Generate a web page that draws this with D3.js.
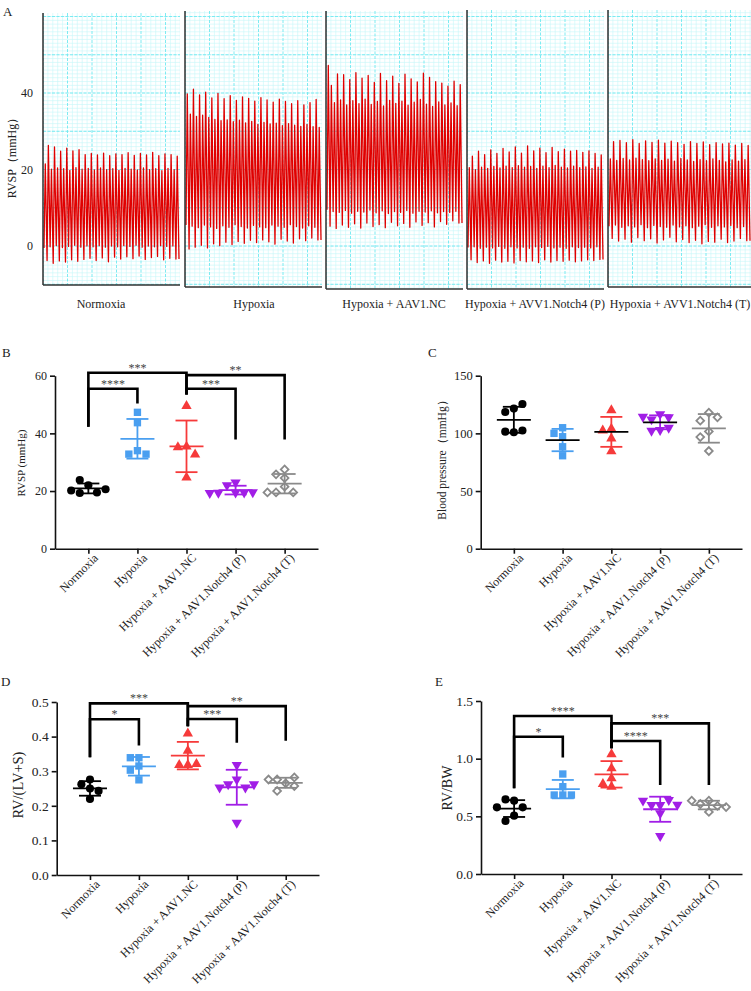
<!DOCTYPE html>
<html>
<head>
<meta charset="utf-8">
<script src="https://cdn.jsdelivr.net/npm/d3@7"></script>
<style>
  body { margin: 0; background: #fff; }
  svg { display: block; }
  text { font-family: "Liberation Serif", "Times New Roman", serif; }
</style>
</head>
<body>
<div id="fig"></div>
<script>
// ---------- panel A : pressure traces (mmHg per beat) ----------
var traceNames = ["Normoxia", "Hypoxia", "Hypoxia + AAV1.NC", "Hypoxia + AVV1.Notch4 (P)", "Hypoxia + AVV1.Notch4 (T)"];

var normPeak = [21.5,26.3,20.1,25.9,20.4,24.8,20.2,25.6,19.8,24.9,20.5,25.2,20.1,23.9,20.3,24.2,19.9,23.8,20.4,24.3,20.0,23.6,20.2,24.1,19.8,23.9,20.3,24.4,20.1,23.7,19.9,24.2,20.4,23.8,20.0,24.5,20.2,23.6,19.7,24.1,20.3,23.9,20.0,23.5];
var normTrough = [-0.5,-3.8,-0.2,-4.5,0.1,-3.9,-0.4,-4.2,-0.1,-3.6,0.2,-4.0,-0.3,-3.5,0.0,-3.2,-0.2,-3.8,0.1,-3.1,-0.3,-4.1,0.0,-2.9,-0.2,-3.4,0.1,-2.8,-0.1,-3.3,0.2,-2.6,-0.3,-3.5,0.0,-3.0,-0.2,-2.7,0.1,-3.6,-0.1,-3.2,0.0,-3.4];
var hypPeak = [39.8,34.5,41.0,33.9,39.5,34.2,40.2,33.6,38.7,33.1,39.9,32.8,38.5,33.0,39.3,32.5,38.1,32.9,39.0,32.2,38.6,32.6,37.9,31.8,38.8,32.3,38.2,31.9,37.6,32.1,38.4,31.5,37.8,32.0,37.2,31.6,38.0,31.3,36.9,31.8,37.5,31.2,38.3,31.0];
var hypTrough = [5.5,-0.8,5.2,-0.3,4.8,0.2,5.5,-0.5,5.0,0.6,4.6,0.1,5.3,1.0,4.9,0.4,5.6,1.2,5.1,0.7,4.7,1.5,5.4,0.9,5.0,1.6,4.8,1.1,5.5,0.5,5.2,1.8,4.9,1.3,5.6,0.8,5.1,1.9,4.7,1.4,5.3,2.1,4.9,1.6];
var ncPeak = [47.2,42.0,37.5,45.0,38.2,44.8,36.9,43.5,38.0,45.3,37.2,43.9,38.4,44.6,37.0,42.8,37.8,45.1,36.6,43.2,38.1,44.4,37.3,42.5,37.9,44.9,36.8,43.7,37.6,42.9,38.3,45.2,37.1,44.1,36.5,43.0,37.7,42.6,36.9,41.8,37.4,43.1,36.7,42.2];
var ncTrough = [9.5,5.2,9.0,4.6,8.8,5.5,9.3,4.9,8.6,5.8,9.1,4.7,8.9,6.0,9.4,5.1,8.7,5.6,9.2,4.8,8.5,6.2,9.0,5.3,8.8,5.9,9.3,4.9,8.6,6.3,9.1,5.4,8.9,6.1,9.2,5.0,8.7,6.4,9.0,5.7,8.8,6.6,9.1,6.0];
var pPeak = [20.5,23.5,20.0,24.8,20.6,23.9,20.3,25.1,20.8,24.2,20.4,25.5,20.9,24.6,20.5,25.9,21.0,24.3,20.6,26.2,20.8,24.9,20.3,25.6,20.9,24.4,20.5,25.8,21.1,24.7,20.6,25.3,20.4,24.8,20.9,25.0,20.5,24.5,20.7,24.9,20.3,24.2,20.6,23.8];
var pTrough = [-0.4,-3.6,-0.2,-4.3,-0.6,-3.9,-0.3,-4.5,-0.5,-3.7,-0.1,-4.2,-0.6,-4.0,-0.2,-4.4,-0.5,-3.8,-0.3,-4.1,-0.6,-3.9,-0.2,-4.3,-0.4,-3.6,-0.1,-4.2,-0.5,-3.8,-0.3,-4.0,-0.6,-3.7,-0.2,-4.1,-0.4,-3.9,-0.3,-3.6,-0.5,-3.8,-0.2,-3.5];
var tPeak = [22.8,27.3,22.4,27.6,22.9,27.0,22.5,27.8,23.0,26.8,22.6,27.5,22.3,27.1,22.8,27.7,22.4,26.9,22.7,27.4,22.2,27.0,22.9,26.6,22.5,27.3,22.1,26.8,22.6,27.2,22.3,26.5,22.8,27.0,22.4,26.7,22.0,26.9,22.5,26.4,22.2,26.8,22.6,26.3];
var tTrough = [5.2,2.0,5.5,1.3,4.9,1.8,5.3,1.0,5.0,2.2,5.6,1.4,4.8,1.9,5.4,0.8,5.1,1.6,4.9,2.3,5.5,1.1,5.0,1.7,5.3,0.9,4.8,1.5,5.2,0.6,5.6,1.2,4.9,1.0,5.3,1.8,5.0,0.9,5.4,1.3,4.8,2.0,5.1,1.4];

var tracePeaks = [normPeak, hypPeak, ncPeak, pPeak, tPeak];
var traceTroughs = [normTrough, hypTrough, ncTrough, pTrough, tTrough];
var traceTicks = [0, 20, 40];

// ---------- panels B-E : individual animals ----------
var groups = ["Normoxia", "Hypoxia", "Hypoxia + AAV1.NC", "Hypoxia + AAV1.Notch4 (P)", "Hypoxia + AAV1.Notch4 (T)"];

var rvspVals = [[22, 23.8, 19.3, 19.5, 20.2, 20.6],
                [47.3, 43.7, 34, 32.8, 32.8],
                [49.5, 35.4, 35.2, 32.7, 24.7],
                [23, 22, 19.5, 19.5, 19.4, 19.6, 19.3],
                [27.5, 25.8, 24.5, 21.5, 19.5, 19.5, 19.5]];
var bpVals = [[121.5, 118.5, 125.5, 101, 101.5, 102.5],
              [104.9, 97.1, 100, 88.4, 80.6],
              [120, 104, 102.5, 95.5, 84.5],
              [116.7, 112.1, 113.9, 114.4, 102.9, 102.3, 104.9],
              [117.9, 111, 113.9, 101.7, 96.8, 84.7]];
var rvlvsVals = [[0.250, 0.262, 0.276, 0.243, 0.220],
                 [0.339, 0.339, 0.315, 0.303, 0.275],
                 [0.409, 0.359, 0.318, 0.318, 0.321],
                 [0.318, 0.276, 0.262, 0.253, 0.253, 0.262, 0.151],
                 [0.265, 0.276, 0.282, 0.276, 0.257, 0.243]];
var rvbwVals = [[0.636, 0.647, 0.578, 0.578, 0.506, 0.46],
                [0.867, 0.685, 0.685, 0.757, 0.685],
                [1.038, 0.916, 0.829, 0.757, 0.78],
                [0.598, 0.598, 0.642, 0.636, 0.526, 0.33, 0.60],
                [0.636, 0.607, 0.59, 0.636, 0.538, 0.58]];

// brackets: [from group, to group, bar level, left leg end, right leg end, label]
var rvspSig = [[0, 2, 61, 42.3, 53.5, "***"], [0, 1, 55.5, 42.3, 50.4, "****"],
               [2, 4, 60.2, 53.5, 37.9, "**"], [2, 3, 55.5, 53.5, 37.9, "***"]];
var rvlvsSig = [[0, 2, 0.496, 0.34, 0.43, "***"], [0, 1, 0.45, 0.34, 0.374, "*"],
                [2, 4, 0.488, 0.43, 0.388, "**"], [2, 3, 0.451, 0.43, 0.382, "***"]];
var rvbwSig = [[0, 2, 1.37, 0.743, 1.09, "****"], [0, 1, 1.19, 0.743, 1.01, "*"],
               [2, 4, 1.306, 1.09, 0.772, "***"], [2, 3, 1.153, 1.09, 0.772, "****"]];

var groupColors = ["#000000", "#4a9ff0", "#f63a3a", "#a11ee6", "#8a8a8a"];
var groupShapes = ["circle", "square", "up", "down", "diamond"];

var W = 751, H = 991;
var svg = d3.select("#fig").append("svg").attr("width", W).attr("height", H);

// ================= panel A =================
var traceBox = [{l: 43, t: 13, r: 180, b: 285}, {l: 185, t: 11, r: 322, b: 287},
                {l: 326, t: 11, r: 463, b: 289}, {l: 467, t: 10, r: 604, b: 289},
                {l: 608, t: 10, r: 751, b: 287}];
var labelX = [101, 254, 394, 535, 680];
var yA = d3.scaleLinear().domain([-10, 60]).range([284.3, 16.5]);
var gridStep = 4.9;

traceBox.forEach(function(b, k) {
  var g = svg.append("g");
  g.append("clipPath").attr("id", "clipA" + k)
    .append("rect").attr("x", b.l).attr("y", b.t).attr("width", b.r - b.l).attr("height", b.b - b.t);
  var gg = g.append("g").attr("clip-path", "url(#clipA" + k + ")");

  // minor grid
  gg.selectAll(".hmin").data(d3.range(-12, 63, 1)).enter().append("line")
    .attr("x1", b.l).attr("x2", b.r).attr("y1", yA).attr("y2", yA)
    .attr("stroke", "#c6f6f8").attr("stroke-width", 0.6);
  var nv = Math.ceil((b.r - b.l) / gridStep);
  gg.selectAll(".vmin").data(d3.range(0, nv + 1)).enter().append("line")
    .attr("x1", function(d) { return b.l + d * gridStep; }).attr("x2", function(d) { return b.l + d * gridStep; })
    .attr("y1", b.t).attr("y2", b.b)
    .attr("stroke", function(d) { return d % 5 == 0 ? "#6fe9f0" : "#c6f6f8"; })
    .attr("stroke-dasharray", function(d) { return d % 5 == 0 ? "3,1.5" : null; })
    .attr("stroke-width", function(d) { return d % 5 == 0 ? 0.9 : 0.6; });
  // major horizontal dashed
  gg.selectAll(".hmaj").data(d3.range(-10, 61, 10)).enter().append("line")
    .attr("x1", b.l).attr("x2", b.r).attr("y1", yA).attr("y2", yA)
    .attr("stroke", "#6fe9f0").attr("stroke-width", 0.9).attr("stroke-dasharray", "3,1.5");

  // trace
  var peaks = tracePeaks[k], troughs = traceTroughs[k];
  var xs = d3.scaleLinear().domain([0, peaks.length]).range([b.l + 1, b.r - 1]);
  var pts = [];
  peaks.forEach(function(p, i) {
    pts.push([i, troughs[i]]);
    pts.push([i + 0.42, p]);
  });
  pts.push([peaks.length, troughs[troughs.length - 1]]);
  gg.append("path").datum(pts)
    .attr("d", d3.line().x(function(d) { return xs(d[0]); }).y(function(d) { return yA(d[1]); }))
    .attr("fill", "none").attr("stroke", "#e00000").attr("stroke-width", 1.3)
    .attr("stroke-linejoin", "round");

  // axes
  g.append("line").attr("x1", b.l).attr("x2", b.l).attr("y1", b.t).attr("y2", b.b)
    .attr("stroke", "#222").attr("stroke-width", 1.4);
  g.append("line").attr("x1", b.l).attr("x2", b.r).attr("y1", b.b).attr("y2", b.b)
    .attr("stroke", "#333").attr("stroke-width", 1.4);

  g.append("text").attr("x", labelX[k]).attr("y", 308).attr("text-anchor", "middle")
    .style("font-size", "12px").attr("fill", "#222").text(traceNames[k]);
});

svg.selectAll(".tickA").data(traceTicks).enter().append("text")
  .attr("x", 33).attr("y", function(d) { return yA(d) + 4; })
  .attr("text-anchor", "end").style("font-size", "12px").attr("fill", "#222")
  .text(function(d) { return d; });
svg.append("text").attr("transform", "translate(16,155) rotate(-90)").attr("text-anchor", "middle")
  .style("font-size", "12px").attr("fill", "#222").text("RVSP（mmHg）");
svg.append("text").attr("x", 3).attr("y", 16).style("font-size", "13px").attr("fill", "#222").text("A");

// ================= panels B-E =================
function symbolPath(shape) {
  if (shape == "circle") return d3.symbol().type(d3.symbolCircle).size(52)();
  if (shape == "square") return d3.symbol().type(d3.symbolSquare).size(54)();
  if (shape == "up" || shape == "down") return d3.symbol().type(d3.symbolTriangle).size(46)();
  return d3.symbol().type(d3.symbolSquare).size(30)();
}

// simple swarm so points with close values sit side by side
function swarm(values, y, cx, step) {
  var placed = [];
  values.forEach(function(v) {
    var py = y(v);
    for (var k = 0; k < 12; k++) {
      var off = k == 0 ? 0 : (k % 2 ? -1 : 1) * Math.ceil(k / 2);
      var px = cx + off * step;
      var ok = placed.every(function(p) { return Math.hypot(p.x - px, p.y - py) >= step * 0.95; });
      if (ok) { placed.push({x: px, y: py, v: v}); break; }
    }
  });
  return placed;
}

function drawDots(cfg) {
  var g = svg.append("g");
  var x = d3.scalePoint().domain(groups).range([cfg.x0, cfg.x1]).padding(0.68);
  var y = d3.scaleLinear().domain(cfg.domain).range([cfg.yBottom, cfg.yTop]);

  // y axis
  var ya = g.append("g").attr("transform", "translate(" + cfg.x0 + ",0)")
    .call(d3.axisLeft(y).tickValues(cfg.ticks).tickFormat(cfg.fmt).tickSize(5).tickSizeOuter(0));
  // x axis
  var xa = g.append("g").attr("transform", "translate(0," + cfg.yBottom + ")")
    .call(d3.axisBottom(x).tickSize(5).tickSizeOuter(0));
  [ya, xa].forEach(function(a) {
    a.selectAll("path, line").attr("stroke", "#111").attr("stroke-width", 1.6);
    a.selectAll("text").attr("fill", "#222").style("font-family", "'Liberation Serif', 'Times New Roman', serif");
  });
  ya.selectAll("text").style("font-size", cfg.tickFont + "px");
  xa.selectAll("text").style("font-size", "12px")
    .attr("x", 0).attr("y", 0).attr("dy", "0.35em")
    .attr("transform", "translate(7,7) rotate(-45)")
    .style("text-anchor", "end");

  // y label and panel letter
  g.append("text").attr("transform", "translate(" + cfg.labX + "," + cfg.labY + ") rotate(-90)")
    .attr("text-anchor", "middle").style("font-size", cfg.labFont + "px").attr("fill", "#222").text(cfg.ylabel);
  g.append("text").attr("x", cfg.letterX).attr("y", cfg.letterY)
    .style("font-size", "13px").attr("fill", "#222").text(cfg.letter);

  // mean +/- SD and points
  cfg.vals.forEach(function(vals, gi) {
    var cx = x(groups[gi]);
    var col = groupColors[gi];
    var m = d3.mean(vals), sd = d3.deviation(vals);
    var meanCol = cfg.meanColors ? cfg.meanColors[gi] : col;
    var eb = g.append("g").attr("stroke-width", 1.8).attr("fill", "none");
    eb.append("line").attr("x1", cx).attr("x2", cx).attr("y1", y(m - sd)).attr("y2", y(m + sd)).attr("stroke", col);
    [m - sd, m + sd].forEach(function(v) {
      eb.append("line").attr("x1", cx - 11).attr("x2", cx + 11).attr("y1", y(v)).attr("y2", y(v)).attr("stroke", col);
    });

    var pts = swarm(vals, y, cx, 8.6);
    var shape = groupShapes[gi];
    g.selectAll(null).data(pts).enter().append("path")
      .attr("d", symbolPath(shape))
      .attr("transform", function(d) {
        var t = "translate(" + d.x + "," + d.y + ")";
        if (shape == "down") t += " rotate(180)";
        if (shape == "diamond") t += " rotate(45)";
        return t;
      })
      .attr("fill", shape == "diamond" ? "#fff" : col)
      .attr("stroke", shape == "diamond" ? col : "none")
      .attr("stroke-width", shape == "diamond" ? 1.8 : 0);

    eb.raise();
    eb.append("line").attr("x1", cx - 17).attr("x2", cx + 17).attr("y1", y(m)).attr("y2", y(m)).attr("stroke", meanCol);
  });

  // significance brackets
  (cfg.sig || []).forEach(function(s) {
    var x1 = x(groups[s[0]]), x2 = x(groups[s[1]]);
    g.append("path")
      .attr("d", "M" + x1 + "," + y(s[3]) + "V" + y(s[2]) + "H" + x2 + "V" + y(s[4]))
      .attr("fill", "none").attr("stroke", "#000").attr("stroke-width", 2.6);
    g.append("text").attr("x", (x1 + x2) / 2).attr("y", y(s[2]) - 1)
      .attr("text-anchor", "middle").style("font-size", "12px").attr("fill", "#444").text(s[5]);
  });
}

drawDots({vals: rvspVals, x0: 55, x1: 318, yTop: 375.7, yBottom: 548.7, domain: [0, 60], ticks: [0, 20, 40, 60],
  fmt: d3.format("d"), tickFont: 12, ylabel: "RVSP (mmHg)", labX: 25, labY: 463, labFont: 11,
  letter: "B", letterX: 2, letterY: 357, sig: rvspSig});

drawDots({vals: bpVals, x0: 480.7, x1: 742, yTop: 375.7, yBottom: 548.7, domain: [0, 150], ticks: [0, 50, 100, 150],
  fmt: d3.format("d"), tickFont: 12.5, ylabel: "Blood pressure（mmHg）", labX: 446, labY: 457, labFont: 11.5,
  letter: "C", letterX: 428, letterY: 357, meanColors: ["#000", "#000", "#000", "#000", "#8a8a8a"]});

drawDots({vals: rvlvsVals, x0: 56.7, x1: 319, yTop: 702, yBottom: 875, domain: [0, 0.5], ticks: [0, 0.1, 0.2, 0.3, 0.4, 0.5],
  fmt: d3.format(".1f"), tickFont: 13.5, ylabel: "RV/(LV+S)", labX: 23, labY: 785, labFont: 14.5,
  letter: "D", letterX: 1, letterY: 686, sig: rvlvsSig});

drawDots({vals: rvbwVals, x0: 481, x1: 742, yTop: 701, yBottom: 874, domain: [0, 1.5], ticks: [0, 0.5, 1.0, 1.5],
  fmt: d3.format(".1f"), tickFont: 13.5, ylabel: "RV/BW", labX: 452, labY: 788, labFont: 14,
  letter: "E", letterX: 435, letterY: 686, sig: rvbwSig});
</script>
</body>
</html>
